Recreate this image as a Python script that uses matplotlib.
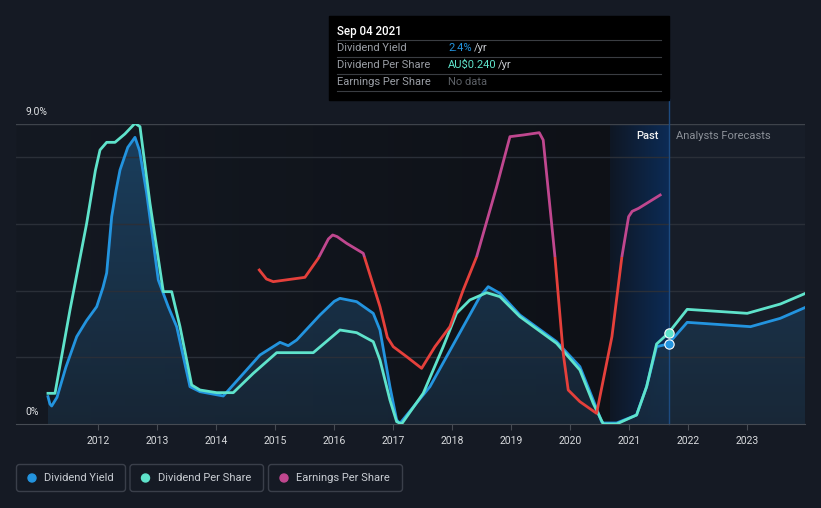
import numpy as np
import matplotlib.pyplot as plt
from matplotlib.colors import LinearSegmentedColormap
from matplotlib.patches import Rectangle, FancyBboxPatch, Circle

plt.rcParams['font.family'] = ['Roboto', 'DejaVu Sans']

# Dividend yield (%)
yield_x = [2011.147, 2011.18, 2011.21, 2011.3, 2011.45, 2011.634, 2011.8, 2011.973, 2012.08,
           2012.142, 2012.227, 2012.3, 2012.368, 2012.5, 2012.622, 2012.7,
           2012.82, 2013.017, 2013.186, 2013.329, 2013.554, 2013.724, 2014.119, 2014.741,
           2015.08, 2015.22, 2015.363, 2015.758, 2016.0, 2016.097, 2016.38, 2016.661, 2016.775,
           2016.944, 2017.058, 2017.114, 2017.622, 2018.186, 2018.469, 2018.61, 2018.808,
           2019.147, 2019.769, 2020.164, 2020.39, 2020.532, 2020.56, 2020.786, 2021.125,
           2021.295, 2021.464, 2021.661, 2021.983, 2023.056, 2023.56, 2023.988]
yield_y = [0.82, 0.6, 0.54, 0.8, 1.7, 2.62, 3.1, 3.52, 4.1,
           4.53, 6.22, 7.0, 7.62, 8.3, 8.6, 8.2,
           6.92, 4.32, 3.52, 2.92, 1.12, 0.97, 0.84, 2.07,
           2.45, 2.35, 2.52, 3.27, 3.68, 3.77, 3.67, 3.32, 2.82,
           1.12, 0.12, 0.02, 1.12, 2.92, 3.82, 4.12, 3.92,
           3.27, 2.47, 1.72, 0.72, 0.07, 0.03, 0.03, 0.27,
           1.12, 2.32, 2.4, 3.05, 2.92, 3.17, 3.5]

# Dividend per share (same scale as drawn)
dps_x = [2011.147, 2011.266, 2011.52, 2011.803, 2011.95, 2012.029, 2012.142, 2012.283, 2012.45,
         2012.622, 2012.707, 2012.876, 2013.102, 2013.244, 2013.385, 2013.583, 2013.724, 2014.007,
         2014.288, 2014.627, 2015.024, 2015.644, 2016.097, 2016.38, 2016.661, 2016.775,
         2016.944, 2017.058, 2017.142, 2017.508, 2017.847, 2018.073, 2018.298, 2018.583,
         2018.808, 2019.147, 2019.769, 2020.164, 2020.39, 2020.56, 2020.786, 2021.125,
         2021.295, 2021.464, 2021.661, 2021.983, 2023.0, 2023.564, 2023.988]
dps_y = [0.92, 0.92, 3.42, 6.02, 7.6, 8.22, 8.45, 8.45, 8.7,
         9.02, 8.92, 6.62, 3.97, 3.97, 2.92, 1.17, 1.02, 0.94,
         0.94, 1.52, 2.14, 2.14, 2.82, 2.74, 2.47, 1.92,
         0.72, 0.07, 0.0, 0.92, 2.32, 3.32, 3.72, 3.94,
         3.82, 3.22, 2.42, 1.62, 0.62, 0.0, 0.0, 0.27,
         1.12, 2.4, 2.72, 3.44, 3.32, 3.6, 3.92]

# Earnings per share (same scale as drawn)
eps_x = [2014.729, 2014.85, 2014.966, 2015.503, 2015.729, 2015.9, 2015.973, 2016.05, 2016.21,
         2016.492, 2016.775, 2016.9, 2017.0, 2017.227, 2017.481, 2017.707, 2017.961, 2018.186,
         2018.414, 2018.753, 2018.978, 2019.203, 2019.475, 2019.542, 2019.741, 2019.881,
         2019.966, 2020.164, 2020.447, 2020.707, 2020.876, 2020.99, 2021.05, 2021.159, 2021.525]
eps_y = [4.62, 4.35, 4.27, 4.4, 4.97, 5.55, 5.67, 5.62, 5.42,
         5.12, 3.52, 2.6, 2.32, 2.02, 1.67, 2.32, 2.92, 4.02,
         5.02, 7.12, 8.62, 8.67, 8.74, 8.52, 5.02, 2.12,
         1.02, 0.67, 0.32, 2.62, 5.02, 6.22, 6.38, 6.47, 6.87]
eps_split = 5.0

year_ticks = list(range(2012, 2024))
tooltip_date = 2021.67
tooltip_yield = 2.4
tooltip_dps = 2.72
past_start = 2020.68
x_min, x_max = 2010.605, 2023.98

blue = '#2394df'
teal = '#5fe3cb'
red = '#e5403b'
magenta = '#c0478f'

W, H = 821, 508
fig = plt.figure(figsize=(W / 100, H / 100), dpi=100, facecolor='#151a24')
ax = fig.add_axes([16 / W, 1 - 424 / H, (805 - 16) / W, 300 / H])
ax.set_facecolor('#171d28')

# fondo del pasado
dark = LinearSegmentedColormap.from_list('dark', ['#141922', '#0e1117'])
ax.imshow(np.linspace(0, 1, 256).reshape(1, -1), extent=[x_min, past_start, 0, 9],
          aspect='auto', cmap=dark, zorder=0)
band = LinearSegmentedColormap.from_list('band', ['#0f1724', '#0c2b55'])
ax.imshow(np.linspace(0, 1, 256).reshape(1, -1), extent=[past_start, tooltip_date, 0, 9],
          aspect='auto', cmap=band, zorder=0)

# relleno bajo el rendimiento
poly = ax.fill_between(yield_x, yield_y, 0, color='none', lw=0)
fill_cmap = LinearSegmentedColormap.from_list(
    'fill', [(0.10, 0.17, 0.24, 0.75), (0.11, 0.28, 0.42, 0.85)])
img = ax.imshow(np.linspace(1, 0, 256).reshape(-1, 1), extent=[x_min, x_max, 0, 9],
                aspect='auto', cmap=fill_cmap, zorder=1)
img.set_clip_path(poly.get_paths()[0], transform=ax.transData)

for v in [2, 4, 6, 8]:
    ax.axhline(v, color='#2a2f38', lw=1, zorder=1.5)
ax.axhline(9, color='#3e434b', lw=1, zorder=1.5)

ax.plot([tooltip_date, tooltip_date], [0, 9.75], color='#1d4b80', lw=1, clip_on=False, zorder=2)

ax.plot(yield_x, yield_y, color=blue, lw=2, zorder=3, solid_joinstyle='round')
ax.plot(dps_x, dps_y, color=teal, lw=2, zorder=4, solid_joinstyle='round')

red_line, = ax.plot(eps_x, eps_y, color=red, lw=2, zorder=5, solid_joinstyle='round')
mag_line, = ax.plot(eps_x, eps_y, color=magenta, lw=2, zorder=5, solid_joinstyle='round')
red_line.set_clip_path(Rectangle((x_min, -1), x_max - x_min, eps_split + 1, transform=ax.transData))
mag_line.set_clip_path(Rectangle((x_min, eps_split), x_max - x_min, 10, transform=ax.transData))

ax.scatter([tooltip_date], [tooltip_yield], s=45, color=blue, edgecolor='white', lw=0.8, zorder=6)
ax.scatter([tooltip_date], [tooltip_dps], s=45, color=teal, edgecolor='white', lw=0.8, zorder=6)

ax.set_xlim(x_min, x_max)
ax.set_ylim(0, 9)
for s in ['top', 'right', 'left']:
    ax.spines[s].set_visible(False)
ax.spines['bottom'].set_color('#464b53')
ax.set_yticks([])
ax.set_xticks(year_ticks)
ax.set_xticklabels([str(y) for y in year_ticks])
ax.tick_params(axis='x', length=4, color='#464b53', labelcolor='#d8dadd', labelsize=7.5, pad=5)

# capa de textos en pixeles
ov = fig.add_axes([0, 0, 1, 1])
ov.set_xlim(0, W)
ov.set_ylim(H, 0)
ov.axis('off')

ov.text(25, 112, '9.0%', color='#e0e2e5', fontsize=7.5, va='center')
ov.text(25, 412, '0%', color='#e0e2e5', fontsize=7.5, va='center')
ov.text(659, 136, 'Past', color='#f0f0f0', fontsize=8, ha='right', va='center', fontweight='medium')
ov.text(676, 136, 'Analysts Forecasts', color='#8b9098', fontsize=8, ha='left', va='center')

# tooltip
ov.add_patch(Rectangle((329, 16), 340, 84, color='#000000', zorder=10))
for yy in [40.3, 57.3, 74.3, 91]:
    ov.plot([337, 661], [yy, yy], color='#3a3d42', lw=0.8, zorder=11)
ov.text(337, 31, 'Sep 04 2021', color='white', fontsize=8.3, va='center', fontweight='medium', zorder=12)
rows = [('Dividend Yield', 48.3), ('Dividend Per Share', 65), ('Earnings Per Share', 82)]
for label, yy in rows:
    ov.text(337, yy, label, color='#9a9ea5', fontsize=8, va='center', zorder=12)
ov.text(448, 48.3, '2.4%', color=blue, fontsize=8, va='center', zorder=12)
ov.text(474, 48.3, '/yr', color='#c8cbd0', fontsize=8, va='center', zorder=12)
ov.text(448, 65, 'AU$0.240', color=teal, fontsize=8, va='center', zorder=12)
ov.text(498, 65, '/yr', color='#c8cbd0', fontsize=8, va='center', zorder=12)
ov.text(448, 82, 'No data', color='#5c6066', fontsize=8, va='center', zorder=12)

# leyenda
legend_items = [('Dividend Yield', blue, 16.5, 125.5), ('Dividend Per Share', teal, 130, 263.5),
                ('Earnings Per Share', magenta, 268.5, 402.5)]
for label, col, x0, x1 in legend_items:
    ov.add_patch(FancyBboxPatch((x0, 464.5), x1 - x0, 27, boxstyle='round,pad=0,rounding_size=3',
                                fc='none', ec='#3a3f4a', lw=1))
    ov.add_patch(Circle((x0 + 15.5, 478), 4, color=col))
    ov.text(x0 + 28, 478, label, color='#c9cdd3', fontsize=8, va='center')

fig.savefig('out.png', dpi=100, facecolor=fig.get_facecolor())
